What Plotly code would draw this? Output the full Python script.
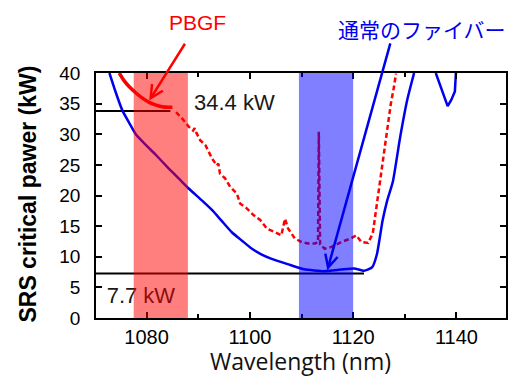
import plotly.graph_objects as go

# ---------------- data ----------------
blue_x = [1072.8, 1074.0, 1075.3, 1076.6, 1077.9, 1079.8, 1081.7, 1084.3, 1086.2, 1088.2,
          1090.7, 1092.7, 1094.5, 1096.5, 1098.5, 1100.4, 1102.2, 1104.1, 1107.3, 1110.5,
          1114.4, 1117.6, 1120.2, 1122.1, 1123.7, 1124.6, 1125.7, 1126.6, 1127.7, 1129.1,
          1130.5, 1131.8]
blue_y = [40.0, 36.9, 33.9, 31.9, 30.0, 28.3, 26.7, 24.4, 22.8, 21.1,
          19.2, 17.6, 15.9, 14.0, 12.6, 11.3, 10.4, 9.7, 8.8, 7.95,
          7.65, 7.9, 8.1, 7.7, 8.3, 10.4, 15.9, 19.2, 22.3, 29.5,
          35.7, 40.0]

blue2_x = [1136.0, 1137.2, 1138.3, 1139.0, 1139.7, 1139.9]
blue2_y = [40.0, 37.0, 34.6, 35.6, 37.0, 40.0]

red_solid_x = [1074.7, 1075.6, 1076.6, 1078.0, 1079.2, 1080.5, 1081.7, 1083.0, 1084.3, 1085.0]
red_solid_y = [40.0, 38.8, 37.8, 36.7, 35.9, 35.2, 34.8, 34.5, 34.4, 34.4]

red_dash_x = [1085.7, 1086.9, 1088.2, 1089.0, 1089.3, 1089.6, 1090.4, 1091.4, 1092.7, 1093.6,
              1093.9, 1094.2, 1095.2, 1096.2, 1097.5, 1098.1, 1099.4, 1100.7, 1102.0, 1103.3,
              1104.9, 1106.1, 1106.8, 1107.4, 1108.7, 1110.0, 1111.3, 1112.6, 1113.2, 1113.35,
              1113.6, 1114.5, 1115.8, 1117.7, 1119.6, 1120.6, 1121.6, 1122.9, 1123.8, 1124.5,
              1125.1, 1125.7, 1126.6, 1127.3, 1127.9, 1128.3]
red_dash_y = [33.6, 32.55, 31.2, 30.6, 31.0, 30.3, 29.0, 28.2, 26.0, 24.9,
              25.2, 23.6, 22.8, 21.4, 20.3, 18.7, 17.9, 16.8, 16.0, 14.6,
              14.0, 13.5, 16.2, 14.6, 13.0, 12.4, 12.15, 12.15, 12.4, 30.4,
              12.0, 11.3, 11.6, 12.4, 13.0, 13.5, 12.4, 12.25, 13.8, 18.1,
              21.4, 25.7, 31.2, 35.0, 37.7, 39.9]

# reference levels (kW) and where they stop
pbgf_level_x = [1070.0, 1084.6]
pbgf_level_y = [33.8, 33.8]
std_level_x = [1070.0, 1122.1]
std_level_y = [7.25, 7.25]

# highlighted wavelength bands (nm)
red_band = [1077.5, 1088.0]
blue_band = [1109.5, 1120.0]

x_ticks = [1080, 1100, 1120, 1140]
y_ticks = [0, 5, 10, 15, 20, 25, 30, 35, 40]

# ---------------- figure ----------------
fig = go.Figure()

fig.add_trace(go.Scatter(x=pbgf_level_x, y=pbgf_level_y, mode="lines",
                         line=dict(color="black", width=2), hoverinfo="skip"))
fig.add_trace(go.Scatter(x=std_level_x, y=std_level_y, mode="lines",
                         line=dict(color="black", width=2), hoverinfo="skip"))

fig.add_trace(go.Scatter(x=blue_x, y=blue_y, mode="lines",
                         line=dict(color="#0000ee", width=2.5, shape="spline", smoothing=0.5)))
fig.add_trace(go.Scatter(x=blue2_x, y=blue2_y, mode="lines",
                         line=dict(color="#0000ee", width=2.5)))
fig.add_trace(go.Scatter(x=red_solid_x, y=red_solid_y, mode="lines",
                         line=dict(color="#ff0000", width=3.5, shape="spline", smoothing=0.6)))
fig.add_trace(go.Scatter(x=red_dash_x, y=red_dash_y, mode="lines",
                         line=dict(color="#ff0000", width=2.5, dash="5px,3px")))

# value labels as text traces (so the bands tint them)
fig.add_trace(go.Scatter(x=[1097.0], y=[34.8], mode="text", text=["34.4 kW"],
                         textfont=dict(family="Liberation Sans, Arial", size=22, color="#1a1a1a"),
                         textposition="middle center"))
fig.add_trace(go.Scatter(x=[1078.9], y=[3.3], mode="text", text=["7.7 kW"],
                         textfont=dict(family="Liberation Sans, Arial", size=22, color="#1a1a1a"),
                         textposition="middle center"))

fig.add_shape(type="rect", xref="x", yref="y", x0=red_band[0], x1=red_band[1], y0=0, y1=40,
              fillcolor="rgba(255,0,0,0.5)", line=dict(width=0), layer="above")
fig.add_shape(type="rect", xref="x", yref="y", x0=blue_band[0], x1=blue_band[1], y0=0, y1=40,
              fillcolor="rgba(0,0,255,0.5)", line=dict(width=0), layer="above")

# arrows
fig.add_annotation(x=1080.5, y=35.5, xref="x", yref="y", ax=36.7, ay=-58.3, text="",
                   showarrow=True, arrowhead=5, arrowsize=1, arrowwidth=2.5, arrowcolor="#ff0000")
fig.add_annotation(x=1115.0, y=7.8, xref="x", yref="y", ax=63.4, ay=-228.3, text="",
                   showarrow=True, arrowhead=5, arrowsize=1, arrowwidth=2.5, arrowcolor="#0000ee")

# callout texts
fig.add_annotation(x=0.2485, y=1.2049, xref="paper", yref="paper", text="PBGF", showarrow=False,
                   xanchor="center", yanchor="middle",
                   font=dict(family="Liberation Sans, Arial", size=21, color="#ff0000"))
fig.add_annotation(x=0.795, y=1.180, xref="paper", yref="paper", text="通常のファイバー", showarrow=False,
                   xanchor="center", yanchor="middle",
                   font=dict(family="Noto Sans CJK JP", size=21, color="#0000ee"))

# axis titles
fig.add_annotation(x=-0.1664, y=0.507, xref="paper", yref="paper", text="<b>SRS critical pawer (kW)</b>",
                   showarrow=False, textangle=-90, xanchor="center", yanchor="middle",
                   font=dict(family="Liberation Sans, Arial", size=23, color="black"))
fig.add_annotation(x=0.4998, y=-0.176, xref="paper", yref="paper", text="Wavelength (nm)",
                   showarrow=False, xanchor="center", yanchor="middle",
                   font=dict(family="Open Sans", size=23, color="#111111"))

fig.update_layout(
    width=511, height=376, autosize=False,
    margin=dict(l=96, r=3, t=73, b=58),
    paper_bgcolor="white", plot_bgcolor="white",
    showlegend=False,
    xaxis=dict(range=[1070.2, 1149.6], tickvals=x_ticks, ticks="inside", ticklen=6, tickwidth=1.5,
               tickcolor="black", showline=True, linecolor="black", linewidth=1.5, mirror="ticks",
               showgrid=False, zeroline=False,
               minor=dict(dtick=10, tick0=1070, ticks="inside", ticklen=4, tickwidth=1.5, tickcolor="black"),
               tickfont=dict(family="Liberation Sans, Arial", size=20, color="black")),
    yaxis=dict(range=[0, 40], tickvals=y_ticks, ticks="inside", ticklen=6, tickwidth=1.5,
               tickcolor="black", showline=True, linecolor="black", linewidth=1.5, mirror="ticks",
               showgrid=False, zeroline=False, ticklabelstandoff=10,
               tickfont=dict(family="Liberation Sans, Arial", size=19, color="black")),
)

# remove the browser's default 8px body margin so the 511x376 figure fills the window exactly
fig.write_html("out.html", config={"displayModeBar": False},
               post_script="document.body.style.margin='0';document.body.style.overflow='hidden';")
